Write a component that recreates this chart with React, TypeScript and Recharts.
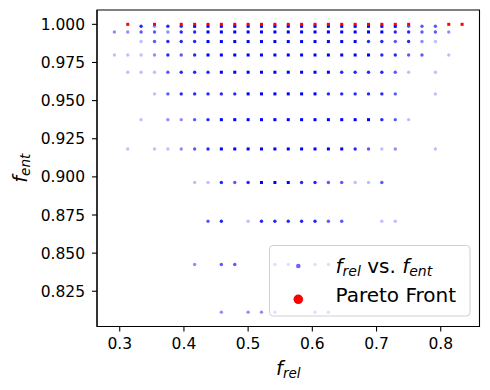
import React from 'react';
import { ScatterChart, Scatter, XAxis, YAxis, Legend, ReferenceArea } from 'recharts';

// f_rel grid columns
const xValues = [0.2917, 0.3125, 0.3333, 0.3542, 0.375, 0.3958, 0.4167, 0.4375, 0.4583, 0.4792, 0.5, 0.5208, 0.5417, 0.5625, 0.5833, 0.6042, 0.625, 0.6458, 0.6667, 0.6875, 0.7083, 0.7292, 0.75, 0.7708, 0.7917, 0.8125, 0.8333];

// f_ent grid rows
const yRowValues = [0.9987, 0.995, 0.9887, 0.9799, 0.9686, 0.9544, 0.9375, 0.9183, 0.8963, 0.8709, 0.8425, 0.8113];

// density (overlap) level of the points in each row, per column
const rowAt9987 = [0, 0, 4, 2, 4, 4, 5, 5, 5, 5, 5, 5, 5, 5, 5, 5, 5, 5, 5, 5, 5, 5, 3, 3, 3, 0, 0];
const rowAt9950 = [2, 2, 3, 3, 2, 4, 4, 5, 5, 5, 5, 5, 5, 5, 5, 5, 5, 5, 5, 5, 5, 4, 4, 3, 3, 2, 0];
const rowAt9887 = [0, 0, 1, 3, 4, 4, 4, 5, 5, 5, 5, 5, 5, 5, 5, 5, 5, 5, 5, 4, 4, 3, 4, 2, 1, 0, 0];
const rowAt9799 = [1, 1, 1, 2, 4, 3, 4, 5, 5, 5, 5, 5, 5, 5, 5, 5, 5, 5, 5, 5, 4, 4, 3, 3, 0, 1, 0];
const rowAt9686 = [0, 1, 1, 1, 3, 4, 4, 4, 5, 5, 5, 5, 5, 5, 5, 5, 5, 4, 4, 4, 4, 3, 1, 0, 1, 0, 0];
const rowAt9544 = [0, 0, 0, 1, 3, 4, 4, 4, 4, 4, 5, 5, 5, 5, 5, 5, 4, 4, 4, 4, 4, 3, 0, 0, 1, 0, 0];
const rowAt9375 = [0, 0, 1, 0, 2, 2, 3, 4, 5, 5, 5, 5, 5, 5, 5, 5, 5, 5, 5, 5, 4, 3, 1, 0, 0, 0, 0];
const rowAt9183 = [0, 1, 0, 1, 1, 2, 3, 4, 5, 5, 5, 5, 5, 5, 5, 5, 5, 5, 4, 3, 1, 2, 0, 0, 1, 0, 0];
const rowAt8963 = [0, 0, 0, 0, 0, 0, 1, 1, 4, 3, 4, 5, 5, 5, 4, 4, 3, 3, 1, 1, 3, 0, 0, 0, 0, 0, 0];
const rowAt8709 = [0, 0, 0, 0, 0, 0, 0, 3, 4, 0, 1, 4, 4, 4, 4, 4, 3, 3, 0, 0, 1, 1, 0, 0, 0, 0, 0];
const rowAt8425 = [0, 0, 0, 0, 0, 0, 2, 0, 3, 3, 0, 0, 3, 3, 0, 3, 3, 0, 0, 0, 0, 0, 0, 0, 0, 0, 0];
const rowAt8113 = [0, 0, 0, 0, 0, 0, 0, 0, 2, 0, 2, 2, 3, 0, 0, 3, 3, 0, 0, 0, 0, 0, 0, 0, 0, 0, 0];

const densityRows = [rowAt9987, rowAt9950, rowAt9887, rowAt9799, rowAt9686, rowAt9544, rowAt9375, rowAt9183, rowAt8963, rowAt8709, rowAt8425, rowAt8113];

// Pareto front
const paretoX = [0.3125, 0.3542, 0.3958, 0.4167, 0.4375, 0.4583, 0.4792, 0.5, 0.5208, 0.5417, 0.5625, 0.5833, 0.6042, 0.625, 0.6458, 0.6667, 0.6875, 0.7083, 0.7292, 0.75, 0.8125, 0.8333];
const paretoY = [1, 1, 1, 1, 1, 1, 1, 1, 1, 1, 1, 1, 1, 1, 1, 1, 1, 1, 1, 1, 1, 1];

const xTicks = [0.3, 0.4, 0.5, 0.6, 0.7, 0.8];
const yTicks = [0.825, 0.85, 0.875, 0.9, 0.925, 0.95, 0.975, 1.0];
const xDomain = [0.2646, 0.8604];
const yDomain = [0.8019, 1.0094];

const levelOpacity = [0, 0.25, 0.45, 0.65, 0.85, 1];

const blueData = densityRows.flatMap((row, r) =>
  row
    .map((lvl, c) => ({ x: xValues[c], y: yRowValues[r], level: lvl }))
    .filter((p) => p.level > 0)
);
const paretoData = paretoX.map((x, i) => ({ x, y: paretoY[i] }));

const FONT = 'DejaVu Sans';

const BluePoint = (props: any) => {
  const { cx, cy, payload } = props;
  if (cx == null || cy == null) return null;
  const lvl = payload.level;
  if (lvl >= 5) {
    return <rect x={cx - 1.5} y={cy - 1.5} width={3} height={3} fill="#0000ff" />;
  }
  return <circle cx={cx} cy={cy} r={1.7} fill="#0000ff" fillOpacity={levelOpacity[lvl]} />;
};

const RedPoint = (props: any) => {
  const { cx, cy } = props;
  if (cx == null || cy == null) return null;
  return <rect x={cx - 1.5} y={cy - 1.5} width={3} height={3} fill="#ff0000" />;
};

const XLabel = (props: any) => {
  const vb = props.viewBox || { x: 97, y: 326.5, width: 382.5, height: 63.5 };
  return (
    <text x={vb.x + vb.width / 2} y={vb.y + 48.8} textAnchor="middle" fontFamily={FONT} fontSize={19.5} fill="#000" fontStyle="italic">
      <tspan>f</tspan>
      <tspan fontSize={13.5} dy={3}>rel</tspan>
    </text>
  );
};

const YLabel = (props: any) => {
  const vb = props.viewBox || { x: 0, y: 10, width: 97, height: 316.5 };
  const cy = vb.y + vb.height / 2;
  return (
    <text x={-cy} y={vb.x + 26.7} transform="rotate(-90)" textAnchor="middle" fontFamily={FONT} fontSize={19.5} fill="#000" fontStyle="italic">
      <tspan>f</tspan>
      <tspan fontSize={13.5} dy={3}>ent</tspan>
    </text>
  );
};

const LegendBox = () => (
  <svg width={202} height={72} style={{ display: 'block' }}>
    <rect x={0.5} y={0.5} width={200.5} height={70.5} rx={3.5} fill="#ffffff" fillOpacity={0.8} stroke="#d0d0d0" strokeWidth={1} />
    <circle cx={29.3} cy={21} r={2.3} fill="#0000ff" fillOpacity={0.6} />
    <circle cx={29.3} cy={54.3} r={4.8} fill="#ff0000" />
    <text x={66.5} y={27.8} fontFamily={FONT} fontSize={20} fill="#000" style={{ whiteSpace: 'pre' }}>
      <tspan fontStyle="italic">f</tspan>
      <tspan fontStyle="italic" fontSize={14} dy={3}>rel</tspan>
      <tspan dy={-3}>{' vs. '}</tspan>
      <tspan fontStyle="italic">f</tspan>
      <tspan fontStyle="italic" fontSize={14} dy={3}>ent</tspan>
    </text>
    <text x={66.5} y={56.7} fontFamily={FONT} fontSize={20} fill="#000">Pareto Front</text>
  </svg>
);

const tickStyle = { fill: '#000', fontSize: 15.5, fontFamily: FONT };
const lineStyle = { stroke: '#000', strokeWidth: 1.1 };

export default function App() {
  return (
    <div style={{ position: 'absolute', left: 0, top: 0, width: 490, height: 390, background: '#fff' }}>
      <ScatterChart width={490} height={390} margin={{ top: 10, right: 10.5, bottom: 0, left: 0 }}>
        <XAxis
          dataKey="x"
          type="number"
          domain={xDomain}
          ticks={xTicks}
          interval={0}
          allowDataOverflow
          tickFormatter={(v: number) => v.toFixed(1)}
          height={63.5}
          tickSize={5}
          tickMargin={6}
          tick={tickStyle}
          axisLine={lineStyle}
          tickLine={lineStyle}
          label={<XLabel />}
        />
        <YAxis
          dataKey="y"
          type="number"
          domain={yDomain}
          ticks={yTicks}
          interval={0}
          allowDataOverflow
          tickFormatter={(v: number) => v.toFixed(3)}
          width={97}
          tickSize={5}
          tickMargin={7}
          tick={tickStyle}
          axisLine={lineStyle}
          tickLine={lineStyle}
          label={<YLabel />}
        />
        <ReferenceArea
          x1={xDomain[0]}
          x2={xDomain[1]}
          y1={yDomain[0]}
          y2={yDomain[1]}
          fill="none"
          fillOpacity={0}
          stroke="#000"
          strokeWidth={1.1}
          strokeOpacity={1}
          ifOverflow="visible"
        />
        <Scatter name="frel vs. fent" data={blueData} shape={BluePoint} isAnimationActive={false} />
        <Scatter name="Pareto Front" data={paretoData} shape={RedPoint} isAnimationActive={false} />
        <Legend
          layout="vertical"
          align="center"
          verticalAlign="middle"
          content={() => <LegendBox />}
          wrapperStyle={{ left: 269, top: 245, width: 202, height: 72, margin: 0, padding: 0 }}
        />
      </ScatterChart>
    </div>
  );
}
